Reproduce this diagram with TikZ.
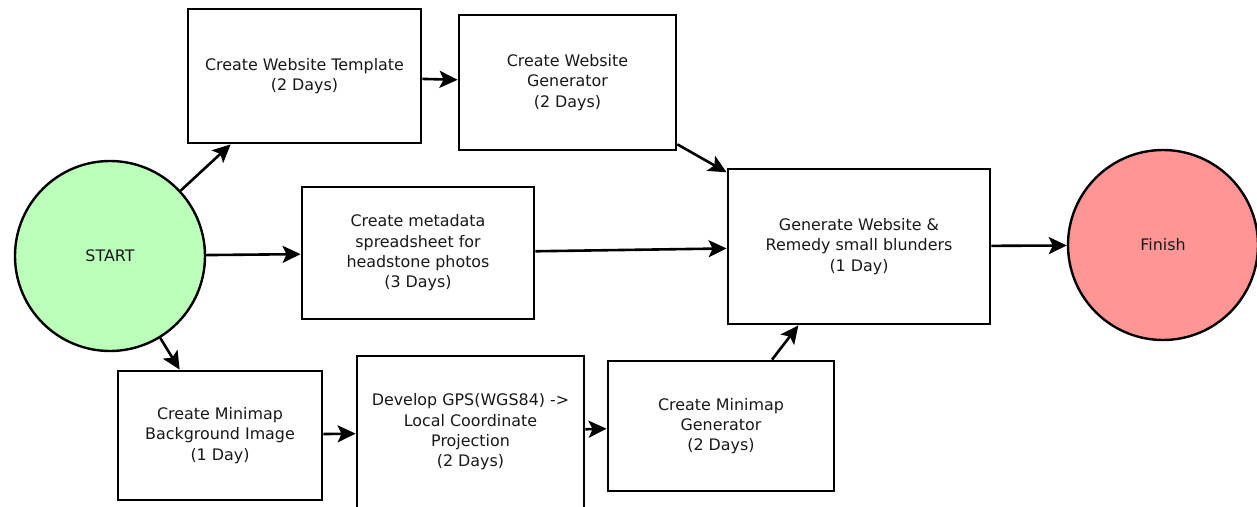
\documentclass[tikz,border=0pt]{standalone}
\usepackage{fontspec}
\setmainfont{DejaVu Sans}
\usetikzlibrary{arrows.meta}
\definecolor{startgreen}{RGB}{187,255,187}
\definecolor{finishred}{RGB}{255,149,149}
\definecolor{txt}{RGB}{25,25,25}
\begin{document}
\begin{tikzpicture}[x=1pt,y=-1pt,
  task/.style={draw=black, line width=2.8pt, fill=white, align=center, inner sep=0pt,
    font=\fontsize{15.9}{20.3}\selectfont, text=txt},
  ev/.style={draw=black, line width=2.4pt, circle, inner sep=0pt, minimum size=190pt,
    font=\fontsize{15.9}{20.3}\selectfont, text=txt},
  arr/.style={line width=2.6pt, -{Stealth[length=18pt,width=17pt,inset=4pt]}}
]
\useasboundingbox (0,0) rectangle (1257,506);
\node[ev, fill=startgreen] (start) at (110,256) {START};
\node[ev, fill=finishred] (finish) at (1163,245) {Finish};
\node[task, minimum width=233pt, minimum height=134pt] (tmpl) at (304.5,76) {Create Website Template\\(2 Days)};
\node[task, minimum width=217pt, minimum height=135pt] (gen) at (567.5,82.5) {Create Website\\Generator\\(2 Days)};
\node[task, minimum width=232pt, minimum height=132pt] (meta) at (418,253) {Create metadata\\spreadsheet for\\headstone photos\\(3 Days)};
\node[task, minimum width=262pt, minimum height=155pt] (site) at (859,246.5) {Generate Website \&\\Remedy small blunders\\(1 Day)};
\node[task, minimum width=204pt, minimum height=129pt] (bg) at (220,435.5) {Create Minimap\\Background Image\\(1 Day)};
\node[task, minimum width=227pt, minimum height=152pt] (gps) at (470.5,432) {Develop GPS(WGS84) ->\\Local Coordinate\\Projection\\(2 Days)};
\node[task, minimum width=226pt, minimum height=130pt] (mmgen) at (721,426) {Create Minimap\\Generator\\(2 Days)};
\draw[arr] (start) -- (tmpl);
\draw[arr] (tmpl) -- (gen);
\draw[arr] (gen) -- (site);
\draw[arr] (start) -- (meta);
\draw[arr] (meta) -- (site);
\draw[arr] (start) -- (bg);
\draw[arr] (bg) -- (gps);
\draw[arr] (gps) -- (mmgen);
\draw[arr] (mmgen) -- (site);
\draw[arr] (site) -- (finish);
\end{tikzpicture}
\end{document}
